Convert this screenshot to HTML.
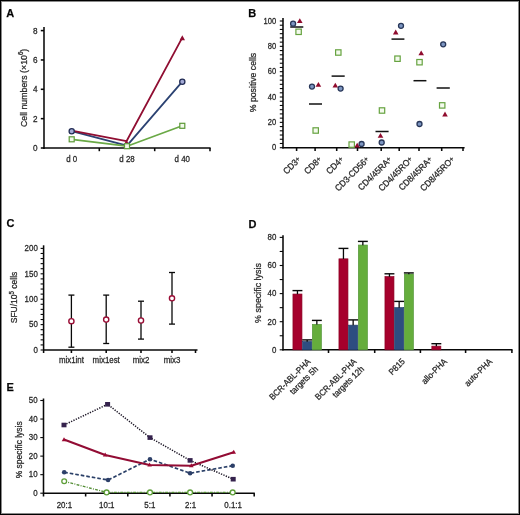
<!DOCTYPE html>
<html><head><meta charset="utf-8"><style>
html,body{margin:0;padding:0;background:#fff;}
body{width:520px;height:515px;overflow:hidden;position:relative;}
svg{position:absolute;left:0;top:0;font-family:"Liberation Sans", sans-serif;}
text{stroke:#2a2a2a;stroke-width:0.25px;}
svg{filter:blur(0.35px);}
.frame{position:absolute;left:0;top:0;width:518px;height:513px;border:1px solid #000;box-shadow:inset 0 0 0 1px #8a8a8a;}
</style></head><body>
<svg width="520" height="515" viewBox="0 0 520 515">
<text transform="translate(6.30,16.60) scale(1,1)" font-size="11" text-anchor="start" fill="#000" font-weight="bold" >A</text>
<line x1="44.00" y1="27.00" x2="44.00" y2="149.00" stroke="#080808" stroke-width="1.55" />
<line x1="43.35" y1="148.00" x2="210.60" y2="148.00" stroke="#080808" stroke-width="1.55" />
<line x1="40.80" y1="148.00" x2="44.00" y2="148.00" stroke="#080808" stroke-width="1.55" />
<text transform="translate(37.50,150.90) scale(1,1.08)" font-size="8.2" text-anchor="end" fill="#262626" font-weight="normal" >0</text>
<line x1="40.80" y1="118.65" x2="44.00" y2="118.65" stroke="#080808" stroke-width="1.55" />
<text transform="translate(37.50,121.55) scale(1,1.08)" font-size="8.2" text-anchor="end" fill="#262626" font-weight="normal" >2</text>
<line x1="40.80" y1="89.30" x2="44.00" y2="89.30" stroke="#080808" stroke-width="1.55" />
<text transform="translate(37.50,92.20) scale(1,1.08)" font-size="8.2" text-anchor="end" fill="#262626" font-weight="normal" >4</text>
<line x1="40.80" y1="59.95" x2="44.00" y2="59.95" stroke="#080808" stroke-width="1.55" />
<text transform="translate(37.50,62.85) scale(1,1.08)" font-size="8.2" text-anchor="end" fill="#262626" font-weight="normal" >6</text>
<line x1="40.80" y1="30.60" x2="44.00" y2="30.60" stroke="#080808" stroke-width="1.55" />
<text transform="translate(37.50,33.50) scale(1,1.08)" font-size="8.2" text-anchor="end" fill="#262626" font-weight="normal" >8</text>
<line x1="99.30" y1="148.00" x2="99.30" y2="151.20" stroke="#080808" stroke-width="1.55" />
<line x1="154.70" y1="148.00" x2="154.70" y2="151.20" stroke="#080808" stroke-width="1.55" />
<line x1="210.00" y1="148.00" x2="210.00" y2="151.20" stroke="#080808" stroke-width="1.55" />
<text transform="translate(71.70,161.60) scale(1,1.08)" font-size="7.9" text-anchor="middle" fill="#262626" font-weight="normal" >d 0</text>
<text transform="translate(127.00,161.60) scale(1,1.08)" font-size="7.9" text-anchor="middle" fill="#262626" font-weight="normal" >d 28</text>
<text transform="translate(182.30,161.60) scale(1,1.08)" font-size="7.9" text-anchor="middle" fill="#262626" font-weight="normal" >d 40</text>
<text transform="translate(26.9,87.9) rotate(-90) scale(1,1.08)" font-size="8.8" text-anchor="middle" fill="#262626">Cell numbers (×10<tspan dy="-3.2" font-size="6.2">6</tspan><tspan dy="3.2">)</tspan></text>
<polyline points="71.70,131.20 127.00,145.60 182.30,81.70" fill="none" stroke="#2b4272" stroke-width="1.8" stroke-linejoin="round" />
<polyline points="71.70,139.30 127.00,146.20 182.30,125.80" fill="none" stroke="#6aa946" stroke-width="1.7" stroke-linejoin="round" />
<polyline points="71.70,130.60 126.50,141.20 182.30,37.60" fill="none" stroke="#900e32" stroke-width="1.8" stroke-linejoin="round" />
<rect x="69.20" y="136.80" width="5" height="5" fill="#f2f9ec" stroke="#5c9a38" stroke-width="1.2"/>
<rect x="124.50" y="143.70" width="5" height="5" fill="#f2f9ec" stroke="#5c9a38" stroke-width="1.2"/>
<rect x="179.80" y="123.30" width="5" height="5" fill="#f2f9ec" stroke="#5c9a38" stroke-width="1.2"/>
<circle cx="71.70" cy="131.20" r="2.6" fill="#a3aad6" stroke="#232d55" stroke-width="1.3"/>
<circle cx="182.30" cy="81.70" r="2.6" fill="#a3aad6" stroke="#232d55" stroke-width="1.3"/>
<polygon points="126.50,139.90 124.75,142.90 128.25,142.90" fill="#900e32"/>
<polygon points="182.30,35.20 179.60,40.20 185.00,40.20" fill="#900e32"/>
<text transform="translate(248.30,16.90) scale(1,1)" font-size="11" text-anchor="start" fill="#000" font-weight="bold" >B</text>
<line x1="283.00" y1="18.00" x2="283.00" y2="148.50" stroke="#080808" stroke-width="1.55" />
<line x1="282.40" y1="147.70" x2="464.60" y2="147.70" stroke="#080808" stroke-width="1.55" />
<line x1="279.80" y1="147.70" x2="283.00" y2="147.70" stroke="#080808" stroke-width="1.1" />
<line x1="279.80" y1="143.48" x2="283.00" y2="143.48" stroke="#080808" stroke-width="1.1" />
<line x1="279.80" y1="139.25" x2="283.00" y2="139.25" stroke="#080808" stroke-width="1.1" />
<line x1="279.80" y1="135.03" x2="283.00" y2="135.03" stroke="#080808" stroke-width="1.1" />
<line x1="279.80" y1="130.81" x2="283.00" y2="130.81" stroke="#080808" stroke-width="1.1" />
<line x1="279.80" y1="126.58" x2="283.00" y2="126.58" stroke="#080808" stroke-width="1.1" />
<line x1="279.80" y1="122.36" x2="283.00" y2="122.36" stroke="#080808" stroke-width="1.1" />
<line x1="279.80" y1="118.14" x2="283.00" y2="118.14" stroke="#080808" stroke-width="1.1" />
<line x1="279.80" y1="113.91" x2="283.00" y2="113.91" stroke="#080808" stroke-width="1.1" />
<line x1="279.80" y1="109.69" x2="283.00" y2="109.69" stroke="#080808" stroke-width="1.1" />
<line x1="279.80" y1="105.47" x2="283.00" y2="105.47" stroke="#080808" stroke-width="1.1" />
<line x1="279.80" y1="101.24" x2="283.00" y2="101.24" stroke="#080808" stroke-width="1.1" />
<line x1="279.80" y1="97.02" x2="283.00" y2="97.02" stroke="#080808" stroke-width="1.1" />
<line x1="279.80" y1="92.80" x2="283.00" y2="92.80" stroke="#080808" stroke-width="1.1" />
<line x1="279.80" y1="88.57" x2="283.00" y2="88.57" stroke="#080808" stroke-width="1.1" />
<line x1="279.80" y1="84.35" x2="283.00" y2="84.35" stroke="#080808" stroke-width="1.1" />
<line x1="279.80" y1="80.13" x2="283.00" y2="80.13" stroke="#080808" stroke-width="1.1" />
<line x1="279.80" y1="75.90" x2="283.00" y2="75.90" stroke="#080808" stroke-width="1.1" />
<line x1="279.80" y1="71.68" x2="283.00" y2="71.68" stroke="#080808" stroke-width="1.1" />
<line x1="279.80" y1="67.46" x2="283.00" y2="67.46" stroke="#080808" stroke-width="1.1" />
<line x1="279.80" y1="63.23" x2="283.00" y2="63.23" stroke="#080808" stroke-width="1.1" />
<line x1="279.80" y1="59.01" x2="283.00" y2="59.01" stroke="#080808" stroke-width="1.1" />
<line x1="279.80" y1="54.79" x2="283.00" y2="54.79" stroke="#080808" stroke-width="1.1" />
<line x1="279.80" y1="50.56" x2="283.00" y2="50.56" stroke="#080808" stroke-width="1.1" />
<line x1="279.80" y1="46.34" x2="283.00" y2="46.34" stroke="#080808" stroke-width="1.1" />
<line x1="279.80" y1="42.12" x2="283.00" y2="42.12" stroke="#080808" stroke-width="1.1" />
<line x1="279.80" y1="37.89" x2="283.00" y2="37.89" stroke="#080808" stroke-width="1.1" />
<line x1="279.80" y1="33.67" x2="283.00" y2="33.67" stroke="#080808" stroke-width="1.1" />
<line x1="279.80" y1="29.45" x2="283.00" y2="29.45" stroke="#080808" stroke-width="1.1" />
<line x1="279.80" y1="25.22" x2="283.00" y2="25.22" stroke="#080808" stroke-width="1.1" />
<line x1="279.80" y1="21.00" x2="283.00" y2="21.00" stroke="#080808" stroke-width="1.1" />
<text transform="translate(276.10,150.30) scale(1,1.08)" font-size="7.6" text-anchor="end" fill="#262626" font-weight="normal" >0</text>
<text transform="translate(276.10,124.96) scale(1,1.08)" font-size="7.6" text-anchor="end" fill="#262626" font-weight="normal" >20</text>
<text transform="translate(276.10,99.62) scale(1,1.08)" font-size="7.6" text-anchor="end" fill="#262626" font-weight="normal" >40</text>
<text transform="translate(276.10,74.28) scale(1,1.08)" font-size="7.6" text-anchor="end" fill="#262626" font-weight="normal" >60</text>
<text transform="translate(276.10,48.94) scale(1,1.08)" font-size="7.6" text-anchor="end" fill="#262626" font-weight="normal" >80</text>
<text transform="translate(276.10,23.60) scale(1,1.08)" font-size="7.6" text-anchor="end" fill="#262626" font-weight="normal" >100</text>
<text transform="translate(255.5,82.5) rotate(-90) scale(1,1.08)" font-size="8.7" text-anchor="middle" fill="#262626">% positive cells</text>
<line x1="296.60" y1="147.70" x2="296.60" y2="151.00" stroke="#080808" stroke-width="1.55" />
<line x1="315.10" y1="147.70" x2="315.10" y2="151.00" stroke="#080808" stroke-width="1.55" />
<line x1="336.70" y1="147.70" x2="336.70" y2="151.00" stroke="#080808" stroke-width="1.55" />
<line x1="357.50" y1="147.70" x2="357.50" y2="151.00" stroke="#080808" stroke-width="1.55" />
<line x1="381.20" y1="147.70" x2="381.20" y2="151.00" stroke="#080808" stroke-width="1.55" />
<line x1="399.20" y1="147.70" x2="399.20" y2="151.00" stroke="#080808" stroke-width="1.55" />
<line x1="419.00" y1="147.70" x2="419.00" y2="151.00" stroke="#080808" stroke-width="1.55" />
<line x1="441.70" y1="147.70" x2="441.70" y2="151.00" stroke="#080808" stroke-width="1.55" />
<line x1="463.00" y1="147.70" x2="463.00" y2="151.00" stroke="#080808" stroke-width="1.55" />
<text transform="translate(301.40,160.20) rotate(-45) scale(1,1.08)" font-size="8.3" text-anchor="end" fill="#262626">CD3<tspan dy="-1.0" font-size="6.8">+</tspan></text>
<text transform="translate(322.40,160.20) rotate(-45) scale(1,1.08)" font-size="8.3" text-anchor="end" fill="#262626">CD8<tspan dy="-1.0" font-size="6.8">+</tspan></text>
<text transform="translate(344.40,160.20) rotate(-45) scale(1,1.08)" font-size="8.3" text-anchor="end" fill="#262626">CD4<tspan dy="-1.0" font-size="6.8">+</tspan></text>
<text transform="translate(369.90,160.20) rotate(-45) scale(1,1.08)" font-size="8.3" text-anchor="end" fill="#262626">CD3-CD56<tspan dy="-1.0" font-size="6.8">+</tspan></text>
<text transform="translate(392.40,160.20) rotate(-45) scale(1,1.08)" font-size="8.3" text-anchor="end" fill="#262626">CD4/45RA<tspan dy="-1.0" font-size="6.8">+</tspan></text>
<text transform="translate(413.40,160.20) rotate(-45) scale(1,1.08)" font-size="8.3" text-anchor="end" fill="#262626">CD4/45RO<tspan dy="-1.0" font-size="6.8">+</tspan></text>
<text transform="translate(433.00,160.20) rotate(-45) scale(1,1.08)" font-size="8.3" text-anchor="end" fill="#262626">CD8/45RA<tspan dy="-1.0" font-size="6.8">+</tspan></text>
<text transform="translate(455.20,160.20) rotate(-45) scale(1,1.08)" font-size="8.3" text-anchor="end" fill="#262626">CD8/45RO<tspan dy="-1.0" font-size="6.8">+</tspan></text>
<line x1="290.20" y1="27.00" x2="303.30" y2="27.00" stroke="#111" stroke-width="1.5" />
<rect x="295.90" y="29.10" width="5.4" height="5.4" fill="#f4faee" stroke="#66a340" stroke-width="1.2"/>
<polygon points="299.80,18.32 297.00,23.12 302.60,23.12" fill="#900c2e"/>
<circle cx="293.10" cy="23.70" r="2.5" fill="#7d96c2" stroke="#283759" stroke-width="1.3"/>
<line x1="309.00" y1="104.00" x2="322.00" y2="104.00" stroke="#111" stroke-width="1.5" />
<rect x="313.00" y="127.80" width="5.4" height="5.4" fill="#f4faee" stroke="#66a340" stroke-width="1.2"/>
<polygon points="318.40,82.02 315.60,86.82 321.20,86.82" fill="#900c2e"/>
<circle cx="312.00" cy="86.60" r="2.5" fill="#7d96c2" stroke="#283759" stroke-width="1.3"/>
<line x1="331.60" y1="76.10" x2="344.70" y2="76.10" stroke="#111" stroke-width="1.5" />
<rect x="335.60" y="49.80" width="5.4" height="5.4" fill="#f4faee" stroke="#66a340" stroke-width="1.2"/>
<polygon points="335.30,82.82 332.50,87.62 338.10,87.62" fill="#900c2e"/>
<circle cx="340.60" cy="88.60" r="2.5" fill="#7d96c2" stroke="#283759" stroke-width="1.3"/>
<rect x="349.00" y="141.90" width="5.4" height="5.4" fill="#f4faee" stroke="#66a340" stroke-width="1.2"/>
<polygon points="357.20,142.82 354.40,147.62 360.00,147.62" fill="#900c2e"/>
<circle cx="361.60" cy="144.00" r="2.5" fill="#7d96c2" stroke="#283759" stroke-width="1.3"/>
<line x1="375.50" y1="131.50" x2="388.60" y2="131.50" stroke="#111" stroke-width="1.5" />
<rect x="379.30" y="107.80" width="5.4" height="5.4" fill="#f4faee" stroke="#66a340" stroke-width="1.2"/>
<polygon points="380.50,132.92 377.70,137.72 383.30,137.72" fill="#900c2e"/>
<circle cx="381.70" cy="142.50" r="2.5" fill="#7d96c2" stroke="#283759" stroke-width="1.3"/>
<line x1="391.50" y1="39.10" x2="404.40" y2="39.10" stroke="#111" stroke-width="1.5" />
<rect x="394.80" y="56.00" width="5.4" height="5.4" fill="#f4faee" stroke="#66a340" stroke-width="1.2"/>
<polygon points="395.70,29.62 392.90,34.42 398.50,34.42" fill="#900c2e"/>
<circle cx="401.00" cy="25.80" r="2.5" fill="#7d96c2" stroke="#283759" stroke-width="1.3"/>
<line x1="413.50" y1="80.70" x2="426.40" y2="80.70" stroke="#111" stroke-width="1.5" />
<rect x="416.80" y="59.50" width="5.4" height="5.4" fill="#f4faee" stroke="#66a340" stroke-width="1.2"/>
<polygon points="421.20,50.52 418.40,55.32 424.00,55.32" fill="#900c2e"/>
<circle cx="419.50" cy="124.00" r="2.5" fill="#7d96c2" stroke="#283759" stroke-width="1.3"/>
<line x1="436.60" y1="88.00" x2="449.80" y2="88.00" stroke="#111" stroke-width="1.5" />
<rect x="439.50" y="102.70" width="5.4" height="5.4" fill="#f4faee" stroke="#66a340" stroke-width="1.2"/>
<polygon points="445.00,111.62 442.20,116.42 447.80,116.42" fill="#900c2e"/>
<circle cx="443.20" cy="44.30" r="2.5" fill="#7d96c2" stroke="#283759" stroke-width="1.3"/>
<text transform="translate(6.60,227.40) scale(1,1)" font-size="11" text-anchor="start" fill="#000" font-weight="bold" >C</text>
<line x1="43.60" y1="245.30" x2="43.60" y2="353.00" stroke="#080808" stroke-width="1.55" />
<line x1="43.00" y1="350.00" x2="197.50" y2="350.00" stroke="#080808" stroke-width="1.55" />
<line x1="40.60" y1="350.00" x2="43.60" y2="350.00" stroke="#080808" stroke-width="1.1" />
<line x1="40.60" y1="344.92" x2="43.60" y2="344.92" stroke="#080808" stroke-width="1.1" />
<line x1="40.60" y1="339.84" x2="43.60" y2="339.84" stroke="#080808" stroke-width="1.1" />
<line x1="40.60" y1="334.76" x2="43.60" y2="334.76" stroke="#080808" stroke-width="1.1" />
<line x1="40.60" y1="329.68" x2="43.60" y2="329.68" stroke="#080808" stroke-width="1.1" />
<line x1="40.60" y1="324.60" x2="43.60" y2="324.60" stroke="#080808" stroke-width="1.1" />
<line x1="40.60" y1="319.52" x2="43.60" y2="319.52" stroke="#080808" stroke-width="1.1" />
<line x1="40.60" y1="314.44" x2="43.60" y2="314.44" stroke="#080808" stroke-width="1.1" />
<line x1="40.60" y1="309.36" x2="43.60" y2="309.36" stroke="#080808" stroke-width="1.1" />
<line x1="40.60" y1="304.28" x2="43.60" y2="304.28" stroke="#080808" stroke-width="1.1" />
<line x1="40.60" y1="299.20" x2="43.60" y2="299.20" stroke="#080808" stroke-width="1.1" />
<line x1="40.60" y1="294.12" x2="43.60" y2="294.12" stroke="#080808" stroke-width="1.1" />
<line x1="40.60" y1="289.04" x2="43.60" y2="289.04" stroke="#080808" stroke-width="1.1" />
<line x1="40.60" y1="283.96" x2="43.60" y2="283.96" stroke="#080808" stroke-width="1.1" />
<line x1="40.60" y1="278.88" x2="43.60" y2="278.88" stroke="#080808" stroke-width="1.1" />
<line x1="40.60" y1="273.80" x2="43.60" y2="273.80" stroke="#080808" stroke-width="1.1" />
<line x1="40.60" y1="268.72" x2="43.60" y2="268.72" stroke="#080808" stroke-width="1.1" />
<line x1="40.60" y1="263.64" x2="43.60" y2="263.64" stroke="#080808" stroke-width="1.1" />
<line x1="40.60" y1="258.56" x2="43.60" y2="258.56" stroke="#080808" stroke-width="1.1" />
<line x1="40.60" y1="253.48" x2="43.60" y2="253.48" stroke="#080808" stroke-width="1.1" />
<line x1="40.60" y1="248.40" x2="43.60" y2="248.40" stroke="#080808" stroke-width="1.1" />
<text transform="translate(37.80,352.70) scale(1,1.08)" font-size="7.9" text-anchor="end" fill="#262626" font-weight="normal" >0</text>
<text transform="translate(37.80,327.30) scale(1,1.08)" font-size="7.9" text-anchor="end" fill="#262626" font-weight="normal" >50</text>
<text transform="translate(37.80,301.90) scale(1,1.08)" font-size="7.9" text-anchor="end" fill="#262626" font-weight="normal" >100</text>
<text transform="translate(37.80,276.50) scale(1,1.08)" font-size="7.9" text-anchor="end" fill="#262626" font-weight="normal" >150</text>
<text transform="translate(37.80,251.10) scale(1,1.08)" font-size="7.9" text-anchor="end" fill="#262626" font-weight="normal" >200</text>
<text transform="translate(17.4,297.5) rotate(-90) scale(1,1.08)" font-size="8.5" text-anchor="middle" fill="#262626">SFU/10<tspan dy="-3.2" font-size="6.2">5</tspan><tspan dy="3.2"> cells</tspan></text>
<line x1="71.40" y1="350.00" x2="71.40" y2="353.00" stroke="#080808" stroke-width="1.55" />
<line x1="106.20" y1="350.00" x2="106.20" y2="353.00" stroke="#080808" stroke-width="1.55" />
<line x1="141.00" y1="350.00" x2="141.00" y2="353.00" stroke="#080808" stroke-width="1.55" />
<line x1="172.00" y1="350.00" x2="172.00" y2="353.00" stroke="#080808" stroke-width="1.55" />
<line x1="195.50" y1="350.00" x2="195.50" y2="353.00" stroke="#080808" stroke-width="1.55" />
<text transform="translate(71.40,363.30) scale(1,1.08)" font-size="7.9" text-anchor="middle" fill="#262626" font-weight="normal" >mix1int</text>
<text transform="translate(106.20,363.30) scale(1,1.08)" font-size="7.9" text-anchor="middle" fill="#262626" font-weight="normal" >mix1est</text>
<text transform="translate(141.00,363.30) scale(1,1.08)" font-size="7.9" text-anchor="middle" fill="#262626" font-weight="normal" >mix2</text>
<text transform="translate(172.00,363.30) scale(1,1.08)" font-size="7.9" text-anchor="middle" fill="#262626" font-weight="normal" >mix3</text>
<line x1="71.40" y1="295.10" x2="71.40" y2="347.20" stroke="#080808" stroke-width="1.3" />
<line x1="68.40" y1="295.10" x2="74.40" y2="295.10" stroke="#080808" stroke-width="1.3" />
<line x1="68.40" y1="347.20" x2="74.40" y2="347.20" stroke="#080808" stroke-width="1.3" />
<circle cx="71.40" cy="321.20" r="2.6" fill="#fff" stroke="#9a0d35" stroke-width="1.4"/>
<line x1="106.20" y1="295.10" x2="106.20" y2="343.50" stroke="#080808" stroke-width="1.3" />
<line x1="103.20" y1="295.10" x2="109.20" y2="295.10" stroke="#080808" stroke-width="1.3" />
<line x1="103.20" y1="343.50" x2="109.20" y2="343.50" stroke="#080808" stroke-width="1.3" />
<circle cx="106.20" cy="319.60" r="2.6" fill="#fff" stroke="#9a0d35" stroke-width="1.4"/>
<line x1="141.00" y1="301.20" x2="141.00" y2="339.10" stroke="#080808" stroke-width="1.3" />
<line x1="138.00" y1="301.20" x2="144.00" y2="301.20" stroke="#080808" stroke-width="1.3" />
<line x1="138.00" y1="339.10" x2="144.00" y2="339.10" stroke="#080808" stroke-width="1.3" />
<circle cx="141.00" cy="320.50" r="2.6" fill="#fff" stroke="#9a0d35" stroke-width="1.4"/>
<line x1="172.00" y1="272.50" x2="172.00" y2="324.10" stroke="#080808" stroke-width="1.3" />
<line x1="169.00" y1="272.50" x2="175.00" y2="272.50" stroke="#080808" stroke-width="1.3" />
<line x1="169.00" y1="324.10" x2="175.00" y2="324.10" stroke="#080808" stroke-width="1.3" />
<circle cx="172.00" cy="298.30" r="2.6" fill="#fff" stroke="#9a0d35" stroke-width="1.4"/>
<text transform="translate(248.40,227.60) scale(1,1)" font-size="11" text-anchor="start" fill="#000" font-weight="bold" >D</text>
<line x1="283.00" y1="235.20" x2="283.00" y2="350.50" stroke="#080808" stroke-width="1.55" />
<line x1="282.40" y1="349.80" x2="512.50" y2="349.80" stroke="#080808" stroke-width="1.55" />
<line x1="279.70" y1="349.80" x2="283.00" y2="349.80" stroke="#080808" stroke-width="1.1" />
<line x1="279.70" y1="335.75" x2="283.00" y2="335.75" stroke="#080808" stroke-width="1.1" />
<line x1="279.70" y1="321.70" x2="283.00" y2="321.70" stroke="#080808" stroke-width="1.1" />
<line x1="279.70" y1="307.65" x2="283.00" y2="307.65" stroke="#080808" stroke-width="1.1" />
<line x1="279.70" y1="293.60" x2="283.00" y2="293.60" stroke="#080808" stroke-width="1.1" />
<line x1="279.70" y1="279.55" x2="283.00" y2="279.55" stroke="#080808" stroke-width="1.1" />
<line x1="279.70" y1="265.50" x2="283.00" y2="265.50" stroke="#080808" stroke-width="1.1" />
<line x1="279.70" y1="251.45" x2="283.00" y2="251.45" stroke="#080808" stroke-width="1.1" />
<line x1="279.70" y1="237.40" x2="283.00" y2="237.40" stroke="#080808" stroke-width="1.1" />
<text transform="translate(276.40,352.60) scale(1,1.08)" font-size="7.9" text-anchor="end" fill="#262626" font-weight="normal" >0</text>
<text transform="translate(276.40,324.50) scale(1,1.08)" font-size="7.9" text-anchor="end" fill="#262626" font-weight="normal" >20</text>
<text transform="translate(276.40,296.40) scale(1,1.08)" font-size="7.9" text-anchor="end" fill="#262626" font-weight="normal" >40</text>
<text transform="translate(276.40,268.30) scale(1,1.08)" font-size="7.9" text-anchor="end" fill="#262626" font-weight="normal" >60</text>
<text transform="translate(276.40,240.20) scale(1,1.08)" font-size="7.9" text-anchor="end" fill="#262626" font-weight="normal" >80</text>
<text transform="translate(261.0,293.0) rotate(-90) scale(1,1.08)" font-size="8.9" text-anchor="middle" fill="#262626">% specific lysis</text>
<line x1="328.50" y1="349.80" x2="328.50" y2="353.00" stroke="#080808" stroke-width="1.55" />
<line x1="374.70" y1="349.80" x2="374.70" y2="353.00" stroke="#080808" stroke-width="1.55" />
<line x1="420.40" y1="349.80" x2="420.40" y2="353.00" stroke="#080808" stroke-width="1.55" />
<line x1="465.60" y1="349.80" x2="465.60" y2="353.00" stroke="#080808" stroke-width="1.55" />
<line x1="511.90" y1="349.80" x2="511.90" y2="353.00" stroke="#080808" stroke-width="1.55" />
<rect x="292.95" y="294.05" width="9.00" height="55.75" fill="#a6002c" stroke="#8a0024" stroke-width="0.7"/>
<line x1="297.45" y1="290.60" x2="297.45" y2="294.20" stroke="#080808" stroke-width="1.3" />
<line x1="292.50" y1="290.60" x2="302.40" y2="290.60" stroke="#080808" stroke-width="1.4" />
<rect x="302.65" y="341.55" width="9.00" height="8.25" fill="#2d4d80" stroke="#22406c" stroke-width="0.7"/>
<line x1="307.15" y1="339.90" x2="307.15" y2="341.70" stroke="#080808" stroke-width="1.3" />
<line x1="302.20" y1="339.90" x2="312.10" y2="339.90" stroke="#080808" stroke-width="1.4" />
<rect x="312.35" y="324.35" width="9.00" height="25.45" fill="#65ad3c" stroke="#55983a" stroke-width="0.7"/>
<line x1="316.85" y1="320.40" x2="316.85" y2="324.50" stroke="#080808" stroke-width="1.3" />
<line x1="311.90" y1="320.40" x2="321.80" y2="320.40" stroke="#080808" stroke-width="1.4" />
<rect x="338.95" y="258.85" width="9.00" height="90.95" fill="#a6002c" stroke="#8a0024" stroke-width="0.7"/>
<line x1="343.45" y1="248.40" x2="343.45" y2="259.00" stroke="#080808" stroke-width="1.3" />
<line x1="338.50" y1="248.40" x2="348.40" y2="248.40" stroke="#080808" stroke-width="1.4" />
<rect x="348.65" y="325.15" width="9.00" height="24.65" fill="#2d4d80" stroke="#22406c" stroke-width="0.7"/>
<line x1="353.15" y1="319.90" x2="353.15" y2="325.30" stroke="#080808" stroke-width="1.3" />
<line x1="348.20" y1="319.90" x2="358.10" y2="319.90" stroke="#080808" stroke-width="1.4" />
<rect x="358.35" y="245.05" width="9.00" height="104.75" fill="#65ad3c" stroke="#55983a" stroke-width="0.7"/>
<line x1="362.85" y1="241.40" x2="362.85" y2="245.20" stroke="#080808" stroke-width="1.3" />
<line x1="357.90" y1="241.40" x2="367.80" y2="241.40" stroke="#080808" stroke-width="1.4" />
<rect x="384.95" y="276.65" width="9.00" height="73.15" fill="#a6002c" stroke="#8a0024" stroke-width="0.7"/>
<line x1="389.45" y1="273.80" x2="389.45" y2="276.80" stroke="#080808" stroke-width="1.3" />
<line x1="384.50" y1="273.80" x2="394.40" y2="273.80" stroke="#080808" stroke-width="1.4" />
<rect x="394.65" y="307.65" width="9.00" height="42.15" fill="#2d4d80" stroke="#22406c" stroke-width="0.7"/>
<line x1="399.15" y1="301.40" x2="399.15" y2="307.80" stroke="#080808" stroke-width="1.3" />
<line x1="394.20" y1="301.40" x2="404.10" y2="301.40" stroke="#080808" stroke-width="1.4" />
<rect x="404.35" y="274.05" width="9.00" height="75.75" fill="#65ad3c" stroke="#55983a" stroke-width="0.7"/>
<line x1="408.85" y1="272.90" x2="408.85" y2="274.20" stroke="#080808" stroke-width="1.3" />
<line x1="403.90" y1="272.90" x2="413.80" y2="272.90" stroke="#080808" stroke-width="1.4" />
<rect x="431.85" y="346.15" width="9.00" height="3.65" fill="#a6002c" stroke="#8a0024" stroke-width="0.7"/>
<line x1="436.35" y1="343.70" x2="436.35" y2="346.30" stroke="#080808" stroke-width="1.3" />
<line x1="431.40" y1="343.70" x2="441.30" y2="343.70" stroke="#080808" stroke-width="1.4" />
<text transform="translate(311.20,362.10) rotate(-45) scale(1,1.08)" font-size="8.1" text-anchor="end" fill="#262626"><tspan x="0" y="0.00">BCR-ABL-PHA</tspan><tspan x="0" y="9.80">targets 5h</tspan></text>
<text transform="translate(357.10,362.10) rotate(-45) scale(1,1.08)" font-size="8.1" text-anchor="end" fill="#262626"><tspan x="0" y="0.00">BCR-ABL-PHA</tspan><tspan x="0" y="9.80">targets 12h</tspan></text>
<text transform="translate(405.50,362.10) rotate(-45) scale(1,1.08)" font-size="8.1" text-anchor="end" fill="#262626"><tspan x="0" y="0.00">P815</tspan></text>
<text transform="translate(447.50,362.10) rotate(-45) scale(1,1.08)" font-size="8.1" text-anchor="end" fill="#262626"><tspan x="0" y="0.00">allo-PHA</tspan></text>
<text transform="translate(492.70,362.10) rotate(-45) scale(1,1.08)" font-size="8.1" text-anchor="end" fill="#262626"><tspan x="0" y="0.00">auto-PHA</tspan></text>
<text transform="translate(6.50,391.40) scale(1,1)" font-size="11" text-anchor="start" fill="#000" font-weight="bold" >E</text>
<line x1="43.50" y1="398.50" x2="43.50" y2="496.50" stroke="#080808" stroke-width="1.55" />
<line x1="42.90" y1="493.20" x2="254.80" y2="493.20" stroke="#080808" stroke-width="1.55" />
<line x1="40.30" y1="493.20" x2="43.50" y2="493.20" stroke="#080808" stroke-width="1.1" />
<text transform="translate(37.60,495.90) scale(1,1.08)" font-size="7.9" text-anchor="end" fill="#262626" font-weight="normal" >0</text>
<line x1="40.30" y1="474.66" x2="43.50" y2="474.66" stroke="#080808" stroke-width="1.1" />
<text transform="translate(37.60,477.36) scale(1,1.08)" font-size="7.9" text-anchor="end" fill="#262626" font-weight="normal" >10</text>
<line x1="40.30" y1="456.12" x2="43.50" y2="456.12" stroke="#080808" stroke-width="1.1" />
<text transform="translate(37.60,458.82) scale(1,1.08)" font-size="7.9" text-anchor="end" fill="#262626" font-weight="normal" >20</text>
<line x1="40.30" y1="437.58" x2="43.50" y2="437.58" stroke="#080808" stroke-width="1.1" />
<text transform="translate(37.60,440.28) scale(1,1.08)" font-size="7.9" text-anchor="end" fill="#262626" font-weight="normal" >30</text>
<line x1="40.30" y1="419.04" x2="43.50" y2="419.04" stroke="#080808" stroke-width="1.1" />
<text transform="translate(37.60,421.74) scale(1,1.08)" font-size="7.9" text-anchor="end" fill="#262626" font-weight="normal" >40</text>
<line x1="40.30" y1="400.50" x2="43.50" y2="400.50" stroke="#080808" stroke-width="1.1" />
<text transform="translate(37.60,403.20) scale(1,1.08)" font-size="7.9" text-anchor="end" fill="#262626" font-weight="normal" >50</text>
<text transform="translate(22.4,449.8) rotate(-90) scale(1,1.08)" font-size="8.5" text-anchor="middle" fill="#262626">% specific lysis</text>
<line x1="85.64" y1="493.20" x2="85.64" y2="496.50" stroke="#080808" stroke-width="1.55" />
<line x1="127.78" y1="493.20" x2="127.78" y2="496.50" stroke="#080808" stroke-width="1.55" />
<line x1="169.92" y1="493.20" x2="169.92" y2="496.50" stroke="#080808" stroke-width="1.55" />
<line x1="212.06" y1="493.20" x2="212.06" y2="496.50" stroke="#080808" stroke-width="1.55" />
<line x1="254.20" y1="493.20" x2="254.20" y2="496.50" stroke="#080808" stroke-width="1.55" />
<text transform="translate(64.40,507.60) scale(1,1.08)" font-size="7.9" text-anchor="middle" fill="#262626" font-weight="normal" >20:1</text>
<text transform="translate(106.80,507.60) scale(1,1.08)" font-size="7.9" text-anchor="middle" fill="#262626" font-weight="normal" >10:1</text>
<text transform="translate(149.80,507.60) scale(1,1.08)" font-size="7.9" text-anchor="middle" fill="#262626" font-weight="normal" >5:1</text>
<text transform="translate(190.60,507.60) scale(1,1.08)" font-size="7.9" text-anchor="middle" fill="#262626" font-weight="normal" >2:1</text>
<text transform="translate(233.10,507.60) scale(1,1.08)" font-size="7.9" text-anchor="middle" fill="#262626" font-weight="normal" >0.1:1</text>
<polyline points="64.20,481.30 106.60,492.40 150.00,492.40 190.10,492.40 232.70,492.40" fill="none" stroke="#548e36" stroke-width="1.35" stroke-linejoin="round" stroke-dasharray="2.8 1.3 1 1.3"/>
<polyline points="64.20,472.30 108.10,480.00 150.00,459.20 190.10,473.20 232.70,465.70" fill="none" stroke="#2b4068" stroke-width="1.7" stroke-linejoin="round" stroke-dasharray="3.6 2"/>
<polyline points="64.00,425.00 107.60,404.30 150.00,437.60 190.10,460.40 233.20,479.20" fill="none" stroke="#1c1626" stroke-width="1.5" stroke-linejoin="round" stroke-dasharray="1.3 1.3"/>
<polyline points="64.00,439.60 105.20,455.00 149.60,465.00 191.30,465.70 233.70,452.20" fill="none" stroke="#920c34" stroke-width="2.1" stroke-linejoin="round" />
<rect x="61.50" y="422.70" width="5.0" height="4.6" fill="#35224d"/>
<rect x="105.10" y="402.00" width="5.0" height="4.6" fill="#35224d"/>
<rect x="147.50" y="435.30" width="5.0" height="4.6" fill="#35224d"/>
<rect x="187.60" y="458.10" width="5.0" height="4.6" fill="#35224d"/>
<rect x="230.70" y="476.90" width="5.0" height="4.6" fill="#35224d"/>
<polygon points="64.00,437.20 61.70,441.20 66.30,441.20" fill="#9c0a33"/>
<polygon points="105.20,452.60 102.90,456.60 107.50,456.60" fill="#9c0a33"/>
<polygon points="149.60,462.60 147.30,466.60 151.90,466.60" fill="#9c0a33"/>
<polygon points="191.30,463.30 189.00,467.30 193.60,467.30" fill="#9c0a33"/>
<polygon points="233.70,449.80 231.40,453.80 236.00,453.80" fill="#9c0a33"/>
<circle cx="64.20" cy="472.30" r="2.3" fill="#2c3f68"/>
<circle cx="108.10" cy="480.00" r="2.3" fill="#2c3f68"/>
<circle cx="150.00" cy="459.20" r="2.3" fill="#2c3f68"/>
<circle cx="190.10" cy="473.20" r="2.3" fill="#2c3f68"/>
<circle cx="232.70" cy="465.70" r="2.3" fill="#2c3f68"/>
<circle cx="64.20" cy="481.30" r="2.4" fill="#fff" stroke="#5f9f3a" stroke-width="1.3"/>
<circle cx="106.60" cy="492.40" r="2.4" fill="#fff" stroke="#5f9f3a" stroke-width="1.3"/>
<circle cx="150.00" cy="492.40" r="2.4" fill="#fff" stroke="#5f9f3a" stroke-width="1.3"/>
<circle cx="190.10" cy="492.40" r="2.4" fill="#fff" stroke="#5f9f3a" stroke-width="1.3"/>
<circle cx="232.70" cy="492.40" r="2.4" fill="#fff" stroke="#5f9f3a" stroke-width="1.3"/>
</svg>
<div class="frame"></div>
</body></html>
